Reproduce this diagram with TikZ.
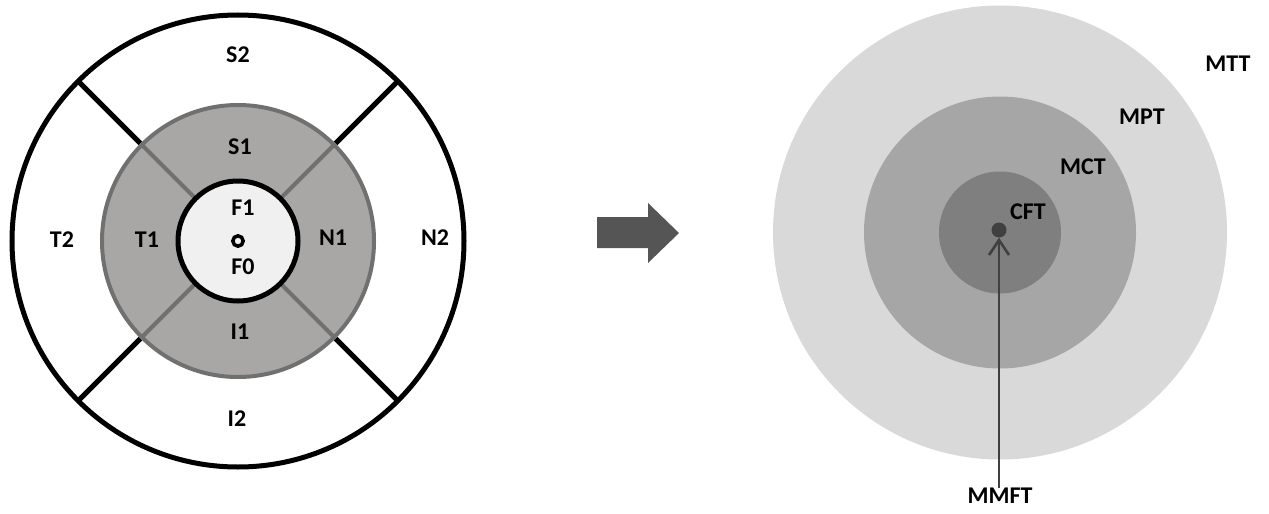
\documentclass[tikz,border=0pt]{standalone}
\usepackage{fontspec}
\setmainfont{Carlito}
\usetikzlibrary{arrows.meta,calc}
\definecolor{ringgray}{RGB}{169,166,166}
\definecolor{ringedge}{RGB}{112,112,112}
\definecolor{centerfill}{RGB}{240,240,240}
\definecolor{bigarrow}{RGB}{85,85,85}
\definecolor{ltt}{RGB}{217,217,217}
\definecolor{mtt}{RGB}{166,166,166}
\definecolor{dtt}{RGB}{127,127,127}
\definecolor{dotc}{RGB}{64,64,64}
\tikzset{
  lbl/.style={font=\fontsize{24}{24}\selectfont\bfseries, inner sep=0pt},
}
\begin{document}
\begin{tikzpicture}[x=1pt,y=-1pt]
\useasboundingbox (0,0) rectangle (1269,514);
% ---------- left diagram ----------
\coordinate (L) at (238,241);
\draw[line width=5pt, fill=white] (L) circle[radius=226];
\foreach \a in {45,135,225,315}{
  \draw[line width=5pt] ($(L)+(\a:138)$) -- ($(L)+(\a:226)$);
}
\draw[line width=4pt, draw=ringedge, fill=ringgray] (L) circle[radius=136];
\foreach \a in {45,135,225,315}{
  \draw[line width=4pt, ringedge] ($(L)+(\a:60)$) -- ($(L)+(\a:136)$);
}
\draw[line width=5pt, fill=centerfill] (L) circle[radius=60];
\draw[line width=3.5pt] (L) circle[radius=5.2];
\node[lbl] (S2) at (238,55) {S2};
\node[lbl] (S1) at (240,147) {S1};
\node[lbl] (T2) at (62,240) {T2};
\node[lbl] (T1) at (147,240) {T1};
\node[lbl] (F1) at (243,208) {F1};
\node[lbl] (F0) at (243,267) {F0};
\node[lbl] (N1) at (333,238) {N1};
\node[lbl] (N2) at (435,238) {N2};
\node[lbl] (I1) at (240,332) {I1};
\node[lbl] (I2) at (237,419) {I2};
% ---------- big arrow ----------
\fill[bigarrow] (597,217) -- (648,217) -- (648,203) -- (679,233) -- (648,263) -- (648,248) -- (597,248) -- cycle;
% ---------- right diagram ----------
\coordinate (R) at (1000,232.5);
\fill[ltt] (R) circle[radius=227];
\fill[mtt] (R) circle[radius=136];
\fill[dtt] (R) circle[radius=61];
\node[circle, fill=dotc, minimum size=15pt, inner sep=0pt] (dot) at (999,230) {};
\node[lbl] (MTT) at (1228,64) {MTT};
\node[lbl] (MPT) at (1142,117) {MPT};
\node[lbl] (MCT) at (1083,167) {MCT};
\node[lbl] (CFT) at (1028,212) {CFT};
\node[lbl, anchor=north] (MMFT) at (1000,488) {MMFT};
\draw[line width=2.6pt, dotc, -{Straight Barb[length=15pt,width=20pt,line width=2.6pt]}] (MMFT.north -| dot) -- (dot.south);
\end{tikzpicture}
\end{document}
